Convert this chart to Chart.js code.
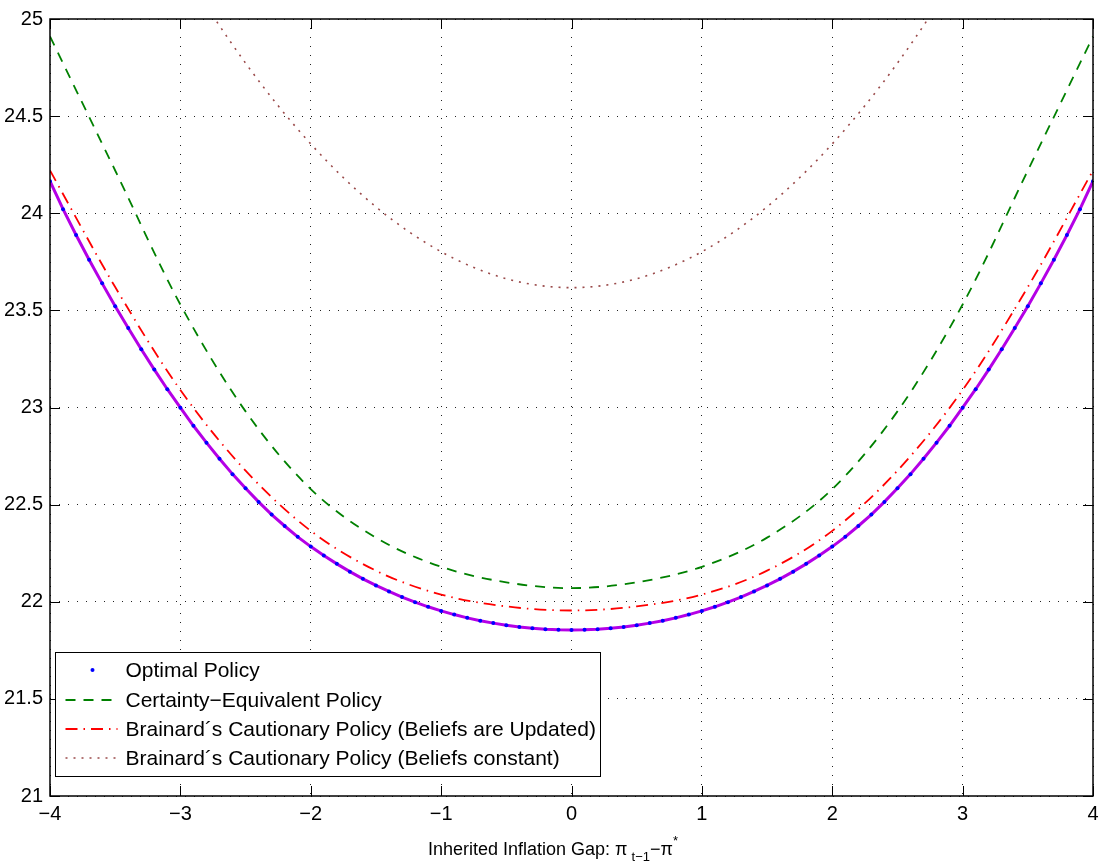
<!DOCTYPE html>
<html>
<head>
<meta charset="utf-8">
<script src="https://cdn.jsdelivr.net/npm/chart.js@4/dist/chart.umd.min.js"></script>
<style>
  html, body { margin: 0; padding: 0; background: #fff; }
  canvas { display: block; }
</style>
</head>
<body>
<canvas id="policyChart" width="1105" height="868"></canvas>
<script>
// inflation gap grid for the optimal policy (every 0.1)
const gapFine = Array.from({ length: 81 }, (_, i) => (i - 40) / 10);
// coarser grid for the other policies (every 0.5)
const gapCoarse = [-4, -3.5, -3, -2.5, -2, -1.5, -1, -0.5, 0, 0.5, 1, 1.5, 2, 2.5, 3, 3.5, 4];

const optimalLoss = [
  24.165, 24.021, 23.888, 23.761, 23.639, 23.521, 23.409, 23.300, 23.195, 23.094,
  22.999, 22.906, 22.819, 22.736, 22.657, 22.584, 22.514, 22.449, 22.390, 22.334,
  22.284, 22.238, 22.195, 22.155, 22.118, 22.084, 22.053, 22.024, 21.998, 21.974,
  21.953, 21.934, 21.917, 21.902, 21.890, 21.879, 21.870, 21.864, 21.859, 21.856,
  21.855,
  21.856, 21.859, 21.864, 21.870, 21.879, 21.890, 21.902, 21.917, 21.934, 21.953,
  21.974, 21.998, 22.024, 22.053, 22.084, 22.118, 22.155, 22.195, 22.238, 22.284,
  22.334, 22.390, 22.449, 22.514, 22.584, 22.657, 22.736, 22.819, 22.906, 22.999,
  23.094, 23.195, 23.300, 23.409, 23.521, 23.639, 23.761, 23.888, 24.021, 24.165
];
const certaintyLoss = [24.91, 24.22, 23.53, 22.98, 22.58, 22.33, 22.18, 22.10, 22.07, 22.10, 22.18, 22.33, 22.58, 22.98, 23.53, 24.22, 24.91];
const brainardUpdated = [24.22, 23.62, 23.09, 22.675, 22.365, 22.16, 22.037, 21.976, 21.955, 21.976, 22.037, 22.16, 22.365, 22.675, 23.09, 23.62, 24.22];
const brainardConstant = [26.58, 25.88, 25.282, 24.773, 24.357, 24.033, 23.802, 23.663, 23.617, 23.663, 23.802, 24.033, 24.357, 24.773, 25.282, 25.88, 26.58];

const xTicks = [-4, -3, -2, -1, 0, 1, 2, 3, 4];
const yTicks = [21, 21.5, 22, 22.5, 23, 23.5, 24, 24.5, 25];

const legendLabels = [
  'Optimal Policy',
  'Certainty\u2212Equivalent Policy',
  'Brainard\u00B4s Cautionary Policy (Beliefs are Updated)',
  'Brainard\u00B4s Cautionary Policy (Beliefs constant)'
];

const FONT = '"Liberation Sans", Arial, Helvetica, sans-serif';
const pts = (xs, ys) => xs.map((x, i) => ({ x: x, y: ys[i] }));

// frame, inward ticks, boxed legend and the axis title with sub/superscripts
const framePlugin = {
  id: 'frame',
  afterDatasetsDraw(chart) {
    const { ctx, chartArea: a, scales } = chart;
    const sx = scales.x, sy = scales.y;
    ctx.save();
    ctx.strokeStyle = '#000';
    ctx.lineWidth = 1;
    ctx.beginPath();
    xTicks.forEach(v => {
      const px = Math.round(sx.getPixelForValue(v)) + 0.5;
      ctx.moveTo(px, a.bottom); ctx.lineTo(px, a.bottom - 10);
      ctx.moveTo(px, a.top); ctx.lineTo(px, a.top + 10);
    });
    yTicks.forEach(v => {
      const py = Math.round(sy.getPixelForValue(v)) + 0.5;
      ctx.moveTo(a.left, py); ctx.lineTo(a.left + 10, py);
      ctx.moveTo(a.right, py); ctx.lineTo(a.right - 10, py);
    });
    ctx.stroke();
    ctx.lineWidth = 1.5;
    ctx.strokeRect(a.left, a.top, a.right - a.left, a.bottom - a.top);

    // legend box
    const lx = a.left + 5.5, ly = 652.5, lw = 545, lh = 124;
    ctx.fillStyle = '#fff';
    ctx.fillRect(lx, ly, lw, lh);
    ctx.lineWidth = 1;
    ctx.strokeRect(lx, ly, lw, lh);
    const rows = [670, 700, 729, 758];
    const order = [0, 2, 3, 4];
    ctx.font = '21px ' + FONT;
    ctx.textBaseline = 'middle';
    ctx.textAlign = 'left';
    rows.forEach((ry, i) => {
      const ds = chart.data.datasets[order[i]];
      if (i === 0) {
        ctx.fillStyle = ds.pointBackgroundColor;
        ctx.beginPath();
        ctx.arc(lx + 37, ry, 2, 0, Math.PI * 2);
        ctx.fill();
      } else {
        ctx.strokeStyle = ds.borderColor;
        ctx.lineWidth = ds.borderWidth;
        ctx.setLineDash(ds.borderDash || []);
        ctx.beginPath();
        ctx.moveTo(lx + 10, ry); ctx.lineTo(lx + 62, ry);
        ctx.stroke();
        ctx.setLineDash([]);
      }
      ctx.fillStyle = '#000';
      ctx.fillText(legendLabels[i], lx + 70, ry + 1);
    });
    ctx.restore();
  },
  afterDraw(chart) {
    const { ctx, chartArea: a } = chart;
    ctx.save();
    ctx.fillStyle = '#000';
    ctx.textBaseline = 'alphabetic';
    ctx.textAlign = 'left';
    const base = 855;
    let cx = a.left + 378;
    const put = (txt, size, dy) => {
      ctx.font = size + 'px ' + FONT;
      ctx.fillText(txt, cx, base + dy);
      cx += ctx.measureText(txt).width;
    };
    put('Inherited Inflation Gap: \u03C0', 18, 0);
    cx += 4;
    put('t\u22121', 13, 6);
    put('\u2212\u03C0', 18, 0);
    put('*', 13, -10);
    ctx.restore();
  }
};

new Chart(document.getElementById('policyChart'), {
  type: 'line',
  data: {
    datasets: [
      {
        label: legendLabels[0],
        data: pts(gapFine, optimalLoss),
        showLine: false,
        pointRadius: 2,
        pointBorderWidth: 0,
        pointBackgroundColor: '#0000ff',
        borderColor: '#0000ff'
      },
      {
        label: 'optimal path',
        data: pts(gapFine, optimalLoss),
        borderColor: '#b400e6',
        borderWidth: 3,
        pointRadius: 0
      },
      {
        label: legendLabels[1],
        data: pts(gapCoarse, certaintyLoss),
        borderColor: '#008000',
        borderWidth: 1.8,
        borderDash: [10, 8],
        pointRadius: 0,
        cubicInterpolationMode: 'monotone'
      },
      {
        label: legendLabels[2],
        data: pts(gapCoarse, brainardUpdated),
        borderColor: '#ff0000',
        borderWidth: 1.8,
        borderDash: [12, 6, 1.5, 6],
        pointRadius: 0,
        cubicInterpolationMode: 'monotone'
      },
      {
        label: legendLabels[3],
        data: pts(gapCoarse, brainardConstant),
        borderColor: '#9a4a4a',
        borderWidth: 1.6,
        borderDash: [2, 6],
        pointRadius: 0,
        cubicInterpolationMode: 'monotone'
      }
    ]
  },
  options: {
    responsive: false,
    animation: false,
    layout: { padding: { top: 15, right: 12, left: 0, bottom: 0 } },
    plugins: { legend: { display: false }, tooltip: { enabled: false } },
    scales: {
      x: {
        type: 'linear',
        min: -4,
        max: 4,
        afterFit: s => { s.height = 72; },
        afterBuildTicks: s => { s.ticks = xTicks.map(v => ({ value: v })); },
        grid: { color: '#222', lineWidth: 1, drawTicks: false },
        border: { display: false, dash: [1, 8] },
        ticks: {
          padding: 6,
          maxRotation: 0,
          autoSkip: false,
          color: '#000',
          font: { family: FONT, size: 20 },
          callback: v => String(v).replace('-', '\u2212')
        }
      },
      y: {
        type: 'linear',
        min: 21,
        max: 25,
        afterFit: s => { s.width = 50; },
        afterBuildTicks: s => { s.ticks = yTicks.map(v => ({ value: v })); },
        grid: { color: '#222', lineWidth: 1, drawTicks: false },
        border: { display: false, dash: [1, 8] },
        ticks: {
          padding: 7,
          color: '#000',
          font: { family: FONT, size: 20 },
          callback: v => String(v)
        }
      }
    }
  },
  plugins: [framePlugin]
});
</script>
</body>
</html>
